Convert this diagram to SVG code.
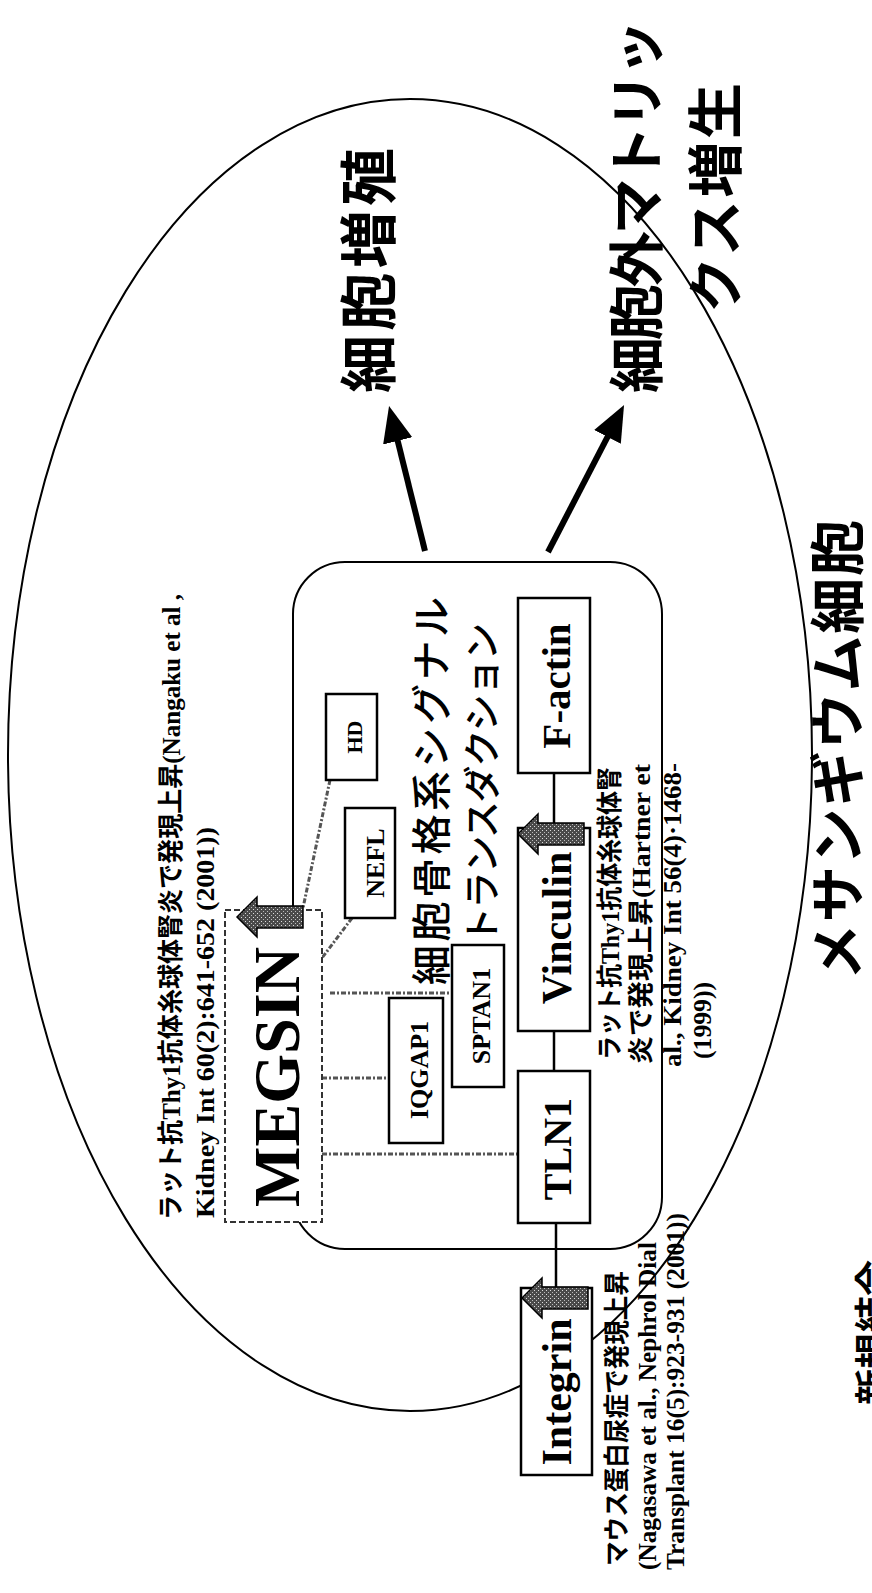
<svg xmlns="http://www.w3.org/2000/svg" xmlns:xlink="http://www.w3.org/1999/xlink" width="872" height="1593" viewBox="0 0 872 1593">
<defs>
<style>
.box{fill:#fff;stroke:#000;stroke-width:2.5}
.lbl{font-family:"Liberation Serif",serif;font-weight:bold;fill:#000;text-anchor:middle}
.ref{font-family:"Liberation Serif","Noto Sans CJK JP",serif;font-weight:bold;font-size:26px;fill:#000}
.jpb{font-family:"Noto Sans CJK JP",sans-serif;font-weight:bold;fill:#000}
.jp{font-family:"Noto Sans CJK JP",sans-serif;font-weight:500;fill:#000}
.link{stroke:#000;stroke-width:2.5;fill:none}
.dash{stroke:#555;stroke-width:3;stroke-dasharray:5 2 2 2;fill:none}
.thick{stroke:#000;stroke-width:6;fill:none;marker-end:url(#head)}
.up{fill:url(#speck);stroke:#000;stroke-width:1.5}
</style>
<pattern id="speck" width="4" height="4" patternUnits="userSpaceOnUse">
<rect width="4" height="4" fill="#4a4a4a"/>
<rect x="0" y="0" width="1" height="1" fill="#ddd"/>
<rect x="2" y="2" width="1" height="1" fill="#bbb"/>
</pattern>
<marker id="head" markerUnits="userSpaceOnUse" markerWidth="40" markerHeight="34" refX="10" refY="15" orient="auto">
<path d="M0,0 L36,15 L0,30 Z" fill="#000"/>
</marker>
<path id="uparrow" d="M0,0 L20,-20 L20,-11 L66,-11 L66,11 L20,11 L20,20 Z"/>
</defs>
<rect width="872" height="1593" fill="#fff"/>

<g id="cell">
<ellipse cx="410" cy="755" rx="402" ry="656" fill="none" stroke="#000" stroke-width="2"/>
<text class="jpb" font-size="56" transform="translate(858,980) rotate(-90)" textLength="460" lengthAdjust="spacing">メサンギウム細胞</text>
</g>

<g id="cytoskeleton-group">
<rect x="293" y="562" width="369" height="687" rx="52" fill="none" stroke="#000" stroke-width="2"/>
<text class="jp" font-size="40" transform="translate(446,985) rotate(-90)" textLength="388" lengthAdjust="spacing">細胞骨格系シグナル</text>
<text class="jp" font-size="37" transform="translate(496,944) rotate(-90)" textLength="321" lengthAdjust="spacing">トランスダクション</text>
</g>

<g id="connectors">
<line class="thick" x1="425" y1="551" x2="395.3" y2="431.2"/>
<line class="thick" x1="548" y1="552" x2="612.1" y2="428.1"/>
<line class="link" x1="554" y1="773" x2="554" y2="828"/>
<line class="link" x1="554" y1="1031" x2="554" y2="1071"/>
<line class="link" x1="556" y1="1223" x2="556" y2="1288" stroke-width="3.5"/>
<line class="dash" x1="330" y1="780" x2="303" y2="908"/>
<line class="dash" x1="352" y1="918" x2="322" y2="958"/>
<line class="dash" x1="330" y1="993" x2="452" y2="993" stroke="#888" stroke-dasharray="3 6"/>
<line class="dash" x1="322" y1="1078" x2="389" y2="1078"/>
<line class="dash" x1="322" y1="1154" x2="518" y2="1154"/>
</g>

<g id="node-proliferation">
<text class="jpb" font-size="58" transform="translate(390,393) rotate(-90)" textLength="245" lengthAdjust="spacing">細胞増殖</text>
</g>

<g id="node-ecm">
<text class="jpb" font-size="56" transform="translate(657,393) rotate(-90)" textLength="373" lengthAdjust="spacing">細胞外マトリッ</text>
<text class="jpb" font-size="56" transform="translate(736,313) rotate(-90)" textLength="230" lengthAdjust="spacing">クス増生</text>
</g>

<g id="node-megsin">
<rect x="225" y="910" width="97" height="312" fill="#fff" stroke="#333" stroke-width="2" stroke-dasharray="6 3"/>
<text class="lbl" font-size="66" transform="translate(299,1077) rotate(-90)" textLength="260" lengthAdjust="spacingAndGlyphs">MEGSIN</text>
<use xlink:href="#uparrow" class="up" transform="translate(237,917)"/>
<text class="ref" transform="translate(180,1220) rotate(-90)" textLength="626" lengthAdjust="spacingAndGlyphs">ラット抗Thy1抗体糸球体腎炎で発現上昇(Nangaku et al ,</text>
<text class="ref" transform="translate(214,1218) rotate(-90)" textLength="391" lengthAdjust="spacingAndGlyphs">Kidney Int 60(2):641-652 (2001))</text>
</g>

<g id="node-hd">
<rect class="box" x="326" y="694" width="51" height="86"/>
<text class="lbl" font-size="22" transform="translate(362,737) rotate(-90)">HD</text>
</g>

<g id="node-nefl">
<rect class="box" x="345" y="808" width="50" height="110"/>
<text class="lbl" font-size="26" transform="translate(384,863) rotate(-90)">NEFL</text>
</g>

<g id="node-iqgap1">
<rect class="box" x="389" y="998" width="54" height="145"/>
<text class="lbl" font-size="26" transform="translate(428,1070) rotate(-90)">IQGAP1</text>
</g>

<g id="node-sptan1">
<rect class="box" x="452" y="945" width="52" height="142"/>
<text class="lbl" font-size="26" transform="translate(490,1016) rotate(-90)">SPTAN1</text>
</g>

<g id="node-factin">
<rect class="box" x="518" y="598" width="72" height="175"/>
<text class="lbl" font-size="41" transform="translate(570,686) rotate(-90)">F-actin</text>
</g>

<g id="node-vinculin">
<rect class="box" x="518" y="828" width="72" height="203"/>
<text class="lbl" font-size="42" transform="translate(571,928) rotate(-90)">Vinculin</text>
<use xlink:href="#uparrow" class="up" transform="translate(518,834)"/>
<text class="ref" transform="translate(619,1060) rotate(-90)" textLength="293" lengthAdjust="spacingAndGlyphs">ラット抗Thy1抗体糸球体腎</text>
<text class="ref" transform="translate(650,1064) rotate(-90)" textLength="300" lengthAdjust="spacingAndGlyphs">炎で発現上昇(Hartner et</text>
<text class="ref" transform="translate(681,1067) rotate(-90)" textLength="304" lengthAdjust="spacingAndGlyphs">al., Kidney Int 56(4)·1468-</text>
<text class="ref" transform="translate(711,1059) rotate(-90)" textLength="77" lengthAdjust="spacingAndGlyphs">(1999))</text>
</g>

<g id="node-tln1">
<rect class="box" x="518" y="1071" width="72" height="152"/>
<text class="lbl" font-size="40" transform="translate(571,1149) rotate(-90)">TLN1</text>
</g>

<g id="node-integrin">
<rect class="box" x="521" y="1288" width="71" height="187"/>
<text class="lbl" font-size="42" transform="translate(571,1392) rotate(-90)">Integrin</text>
<use xlink:href="#uparrow" class="up" transform="translate(522,1298)"/>
<text class="ref" transform="translate(626,1566) rotate(-90)" textLength="295" lengthAdjust="spacingAndGlyphs">マウス蛋白尿症で発現上昇</text>
<text class="ref" transform="translate(656,1570) rotate(-90)" textLength="328" lengthAdjust="spacingAndGlyphs">(Nagasawa et al., Nephrol Dial</text>
<text class="ref" transform="translate(684,1570) rotate(-90)" textLength="357" lengthAdjust="spacingAndGlyphs">Transplant 16(5):923-931 (2001))</text>
</g>

<g id="legend">
<text class="jpb" font-size="36" transform="translate(886,1405) rotate(-90)" textLength="145" lengthAdjust="spacing">新規結合</text>
</g>
</svg>
